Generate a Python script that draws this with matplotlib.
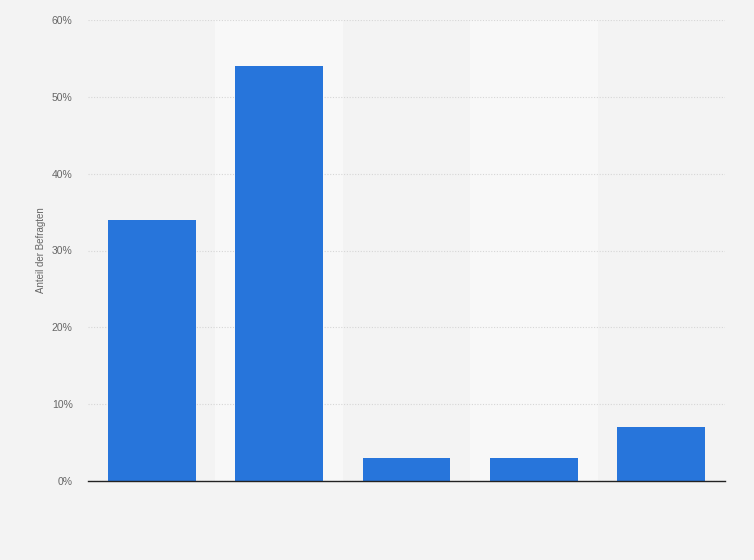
import matplotlib
matplotlib.use("Agg")
import matplotlib.pyplot as plt
import numpy as np

categories = ["A", "B", "C", "D", "E"]
values = [34, 54, 3, 3, 7]
yticks = [0, 10, 20, 30, 40, 50, 60]
ytick_labels = ["0%", "10%", "20%", "30%", "40%", "50%", "60%"]

plt.rcParams['font.family'] = ['Liberation Sans', 'DejaVu Sans']

fig = plt.figure(figsize=(7.54, 5.6), dpi=100)
fig.patch.set_facecolor('#f3f3f3')
ax = fig.add_axes([88/754, (560-481)/560, (725-88)/754, (481-20)/560])
ax.set_facecolor('#f3f3f3')

x = np.arange(len(categories))
for i in x:
    if i % 2 == 1:
        ax.axvspan(i - 0.5, i + 0.5, color='#f8f8f8', zorder=0, lw=0)

ax.bar(x, values, width=0.69, color='#2775db', zorder=3)
ax.set_xlim(-0.5, len(categories) - 0.5)
ax.set_ylim(0, 60)
ax.set_yticks(yticks)
ax.set_yticklabels(ytick_labels)
ax.set_xticks(x)
ax.set_xticklabels([""] * len(categories))
ax.tick_params(axis='both', length=0, labelsize=7.5, labelcolor='#666666', pad=11)
ax.yaxis.grid(True, color='#d6d6d6', linestyle=(0, (1, 1.5)), lw=0.8, zorder=1)
for s in ['top', 'right', 'left']:
    ax.spines[s].set_visible(False)
ax.spines['bottom'].set_color('#222222')
ax.spines['bottom'].set_linewidth(1.0)
ax.spines['bottom'].set_zorder(4)
ax.set_ylabel("Anteil der Befragten", fontsize=7, color='#666666', labelpad=4)

fig.savefig("out.png", dpi=100, facecolor=fig.get_facecolor())
